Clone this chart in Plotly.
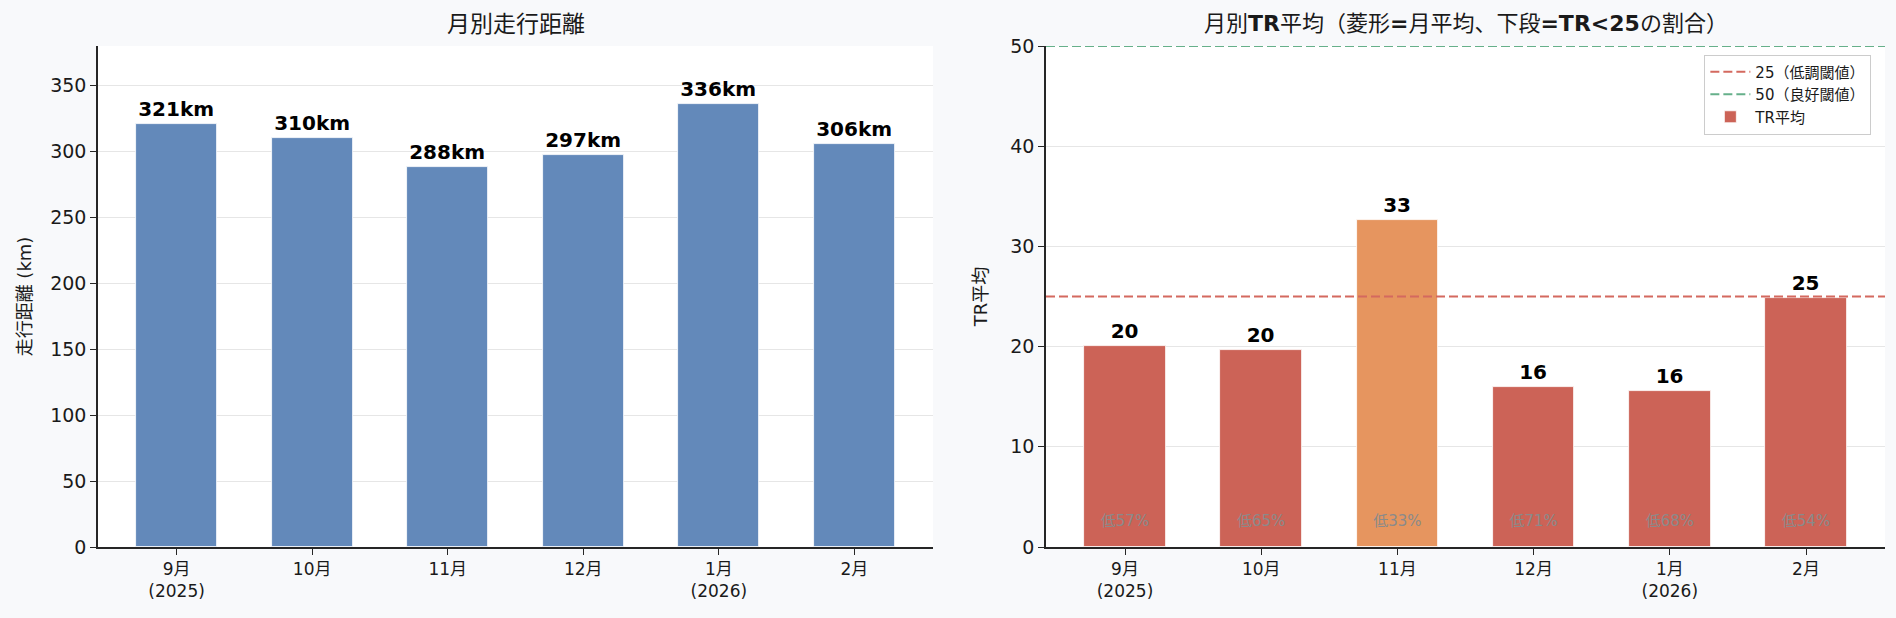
import plotly.graph_objects as go

# data
months = ["9月<br>(2025)", "10月", "11月", "12月", "1月<br>(2026)", "2月"]
distance_km = [321, 310, 288, 297, 336, 306]
tr_avg = [20.1, 19.7, 32.6, 16.0, 15.6, 24.9]
low_pct = [57, 65, 33, 71, 68, 54]
low_th = 25
good_th = 50

FONT = "DejaVu Sans, Noto Sans CJK JP, sans-serif"
BG = "#f8f9fb"
BLUE = "#6389ba"
RED = "#cc6357"
ORANGE = "#e6955f"
RED_LINE = "#d4695f"
GREEN_LINE = "#66b08a"
DASH = "9px,4px"

x = list(range(len(months)))
tr_colors = [RED if v < low_th else (ORANGE if v < good_th else GREEN_LINE) for v in tr_avg]

fig = go.Figure()

# left: distance
fig.add_trace(go.Bar(
    x=x, y=distance_km, width=0.6, xaxis="x", yaxis="y",
    marker=dict(color=BLUE, line=dict(color="white", width=0.8)),
    text=[f"<b>{v}km</b>" for v in distance_km], textposition="outside",
    textfont=dict(size=20, color="black", family=FONT),
    cliponaxis=False, showlegend=False,
))

# right: TR average (legend entries for threshold lines)
fig.add_trace(go.Scatter(
    x=[None], y=[None], mode="lines", xaxis="x2", yaxis="y2",
    line=dict(color=RED_LINE, width=2, dash=DASH), name="25（低調閾値）",
))
fig.add_trace(go.Scatter(
    x=[None], y=[None], mode="lines", xaxis="x2", yaxis="y2",
    line=dict(color=GREEN_LINE, width=2, dash=DASH), name="50（良好閾値）",
))
fig.add_trace(go.Bar(
    x=x, y=tr_avg, width=0.6, xaxis="x2", yaxis="y2",
    marker=dict(color=tr_colors, line=dict(color="white", width=0.8)),
    text=[f"<b>{v:.0f}</b>" for v in tr_avg], textposition="outside",
    textfont=dict(size=20, color="black", family=FONT),
    cliponaxis=False, name="TR平均",
))
fig.add_trace(go.Scatter(
    x=x, y=[2.5] * len(x), mode="text", xaxis="x2", yaxis="y2",
    text=[f"低{p}%" for p in low_pct],
    textfont=dict(size=15, color="#8a8a8a", family=FONT),
    showlegend=False, hoverinfo="skip",
))

for th, col in [(low_th, RED_LINE), (good_th, GREEN_LINE)]:
    fig.add_shape(type="line", xref="x2 domain", yref="y2", x0=0, x1=1, y0=th, y1=th,
                  line=dict(color=col, width=2, dash=DASH), layer="above")

axis_common = dict(
    showline=True, linecolor="#262626", linewidth=1.5, ticks="outside",
    ticklen=6, tickcolor="#262626", zeroline=False,
)
xtick_font = dict(size=17, color="#1a1a1a", family=FONT)
ytick_font = dict(size=19, color="#1a1a1a", family=FONT)
xdom1 = [98 / 1896, 933 / 1896]
xdom2 = [1046 / 1896, 1885 / 1896]
title_y = 1 + (46 - 24) / 501

fig.update_layout(
    width=1896, height=618,
    paper_bgcolor=BG, plot_bgcolor="white",
    font=dict(family=FONT),
    margin=dict(l=0, r=0, t=46, b=71),
    bargap=0,
    xaxis=dict(domain=xdom1, anchor="y", range=[-0.58, 5.58], tickvals=x, ticktext=months,
               showgrid=False, tickfont=xtick_font, **axis_common),
    yaxis=dict(anchor="x", range=[0, 380], dtick=50, showgrid=True, gridcolor="#e6e6e6",
               tickfont=ytick_font,
               title=dict(text="走行距離 (km)", font=dict(size=18, color="#1a1a1a"), standoff=14),
               **axis_common),
    xaxis2=dict(domain=xdom2, anchor="y2", range=[-0.58, 5.58], tickvals=x, ticktext=months,
                showgrid=False, tickfont=xtick_font, **axis_common),
    yaxis2=dict(anchor="x2", range=[0, 50], dtick=10, showgrid=True, gridcolor="#e6e6e6",
                tickfont=ytick_font,
                title=dict(text="TR平均", font=dict(size=18, color="#1a1a1a"), standoff=18),
                **axis_common),
    legend=dict(x=0.987, y=0.983, xanchor="right", yanchor="top",
                bgcolor="rgba(255,255,255,0.9)", bordercolor="#cccccc", borderwidth=1,
                font=dict(size=15, color="#1a1a1a", family=FONT), tracegroupgap=0,
                itemwidth=40),
    annotations=[
        dict(text="月別走行距離", x=sum(xdom1) / 2, y=title_y, xref="paper", yref="paper",
             xanchor="center", yanchor="middle", showarrow=False,
             font=dict(size=23, color="#1a1a1a")),
        dict(text="月別<b>TR</b>平均（菱形<b>=</b>月平均、下段<b>=TR&lt;25</b>の割合）",
             x=sum(xdom2) / 2, y=title_y, xref="paper", yref="paper",
             xanchor="center", yanchor="middle", showarrow=False,
             font=dict(size=22, color="#1a1a1a")),
    ],
)

fig.write_html(
    "out.html",
    config={"displayModeBar": False},
    post_script=f"document.body.style.margin='0';document.body.style.background='{BG}';",
)
